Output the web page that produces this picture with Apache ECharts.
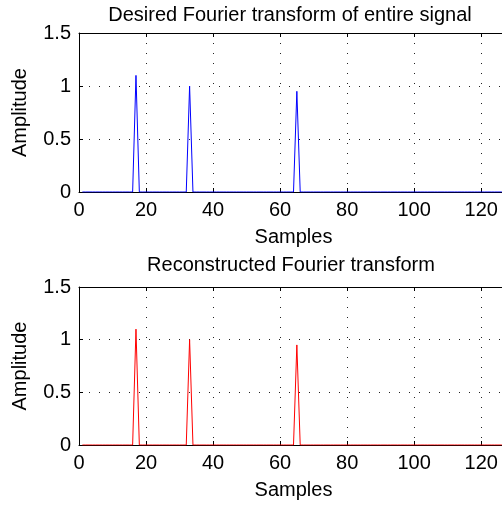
<!DOCTYPE html>
<html>
<head>
<meta charset="utf-8">
<script src="https://cdn.jsdelivr.net/npm/echarts@6/dist/echarts.min.js"></script>
<style>
html,body{margin:0;padding:0;background:#fff;}
#chart{width:502px;height:510px;}
</style>
</head>
<body>
<div id="chart"></div>
<script>
// Sample indices 1..128
var samples = [
  1,2,3,4,5,6,7,8,9,10,11,12,13,14,15,16,
  17,18,19,20,21,22,23,24,25,26,27,28,29,30,31,32,
  33,34,35,36,37,38,39,40,41,42,43,44,45,46,47,48,
  49,50,51,52,53,54,55,56,57,58,59,60,61,62,63,64,
  65,66,67,68,69,70,71,72,73,74,75,76,77,78,79,80,
  81,82,83,84,85,86,87,88,89,90,91,92,93,94,95,96,
  97,98,99,100,101,102,103,104,105,106,107,108,109,110,111,112,
  113,114,115,116,117,118,119,120,121,122,123,124,125,126,127,128
];
// Desired Fourier transform of entire signal
var desiredAmp = [
  0,0,0,0,0,0,0,0,0,0,0,0,0,0,0,0,
  1.1,0,0,0,0,0,0,0,0,0,0,0,0,0,0,0,
  1.0,0,0,0,0,0,0,0,0,0,0,0,0,0,0,0,
  0,0,0,0,0,0,0,0,0,0,0,0,0,0,0,0,
  0.95,0,0,0,0,0,0,0,0,0,0,0,0,0,0,0,
  0,0,0,0,0,0,0,0,0,0,0,0,0,0,0,0,
  0,0,0,0,0,0,0,0,0,0,0,0,0,0,0,0,
  0,0,0,0,0,0,0,0,0,0,0,0,0,0,0,0
];
// Reconstructed Fourier transform
var reconAmp = [
  0,0,0,0,0,0,0,0,0,0,0,0,0,0,0,0,
  1.1,0,0,0,0,0,0,0,0,0,0,0,0,0,0,0,
  1.0,0,0,0,0,0,0,0,0,0,0,0,0,0,0,0,
  0,0,0,0,0,0,0,0,0,0,0,0,0,0,0,0,
  0.95,0,0,0,0,0,0,0,0,0,0,0,0,0,0,0,
  0,0,0,0,0,0,0,0,0,0,0,0,0,0,0,0,
  0,0,0,0,0,0,0,0,0,0,0,0,0,0,0,0,
  0,0,0,0,0,0,0,0,0,0,0,0,0,0,0,0
];
var titles = ['Desired Fourier transform of entire signal', 'Reconstructed Fourier transform'];
var xName = 'Samples';
var yName = 'Amplitude';

function pairs(xs, ys){ return xs.map(function(x,i){ return [x, ys[i]]; }); }

var FONT = 'Liberation Sans, Arial, sans-serif';
var FS = 20;
var gridLine = {show:true, lineStyle:{color:'#222', width:1, type:[1,9]}};

function xAxisBottom(gi){
  return {
    type:'value', gridIndex:gi, position:'bottom', min:0, max:128, interval:20,
    name:xName, nameLocation:'middle', nameGap:35,
    nameTextStyle:{color:'#000', fontSize:FS, fontFamily:FONT},
    axisLine:{show:true, onZero:false, lineStyle:{color:'#000', width:1}},
    axisTick:{show:true, inside:true, length:4, lineStyle:{color:'#000'}},
    axisLabel:{show:true, margin:8, color:'#000', fontSize:FS, fontFamily:FONT,
      showMaxLabel:false, hideOverlap:false,
      formatter:function(v){ return (v % 20 === 0) ? String(v) : ''; }},
    splitLine:gridLine
  };
}
function xAxisTop(gi){
  return {
    type:'value', gridIndex:gi, position:'top', min:0, max:128, interval:20,
    axisLine:{show:true, onZero:false, lineStyle:{color:'#000', width:1}},
    axisTick:{show:true, inside:true, length:4, lineStyle:{color:'#000'}},
    axisLabel:{show:false}, splitLine:{show:false}
  };
}
function yAxisLeft(gi){
  return {
    type:'value', gridIndex:gi, min:0, max:1.5, interval:0.5,
    name:yName, nameLocation:'middle', nameGap:49, nameRotate:90,
    nameTextStyle:{color:'#000', fontSize:FS, fontFamily:FONT},
    axisLine:{show:true, lineStyle:{color:'#000', width:1}},
    axisTick:{show:true, inside:true, length:4, lineStyle:{color:'#000'}},
    axisLabel:{show:true, margin:8, color:'#000', fontSize:FS, fontFamily:FONT},
    splitLine:gridLine
  };
}

var chart = echarts.init(document.getElementById('chart'), null, {renderer:'canvas'});
chart.setOption({
  backgroundColor:'#fff',
  animation:false,
  title:[
    {text:titles[0], left:285, top:0, textAlign:'center',
     textStyle:{color:'#000', fontSize:FS, fontWeight:'normal', fontFamily:FONT}},
    {text:titles[1], left:286, top:250, textAlign:'center',
     textStyle:{color:'#000', fontSize:FS, fontWeight:'normal', fontFamily:FONT}}
  ],
  grid:[
    {left:79, width:429, top:33, height:159, containLabel:false, outerBoundsMode:'none'},
    {left:79, width:429, top:287, height:158, containLabel:false, outerBoundsMode:'none'}
  ],
  xAxis:[xAxisBottom(0), xAxisTop(0), xAxisBottom(1), xAxisTop(1)],
  yAxis:[yAxisLeft(0), yAxisLeft(1)],
  series:[
    {type:'line', xAxisIndex:0, yAxisIndex:0, data:pairs(samples, desiredAmp),
     showSymbol:false, symbol:'none', lineStyle:{color:'#0000ff', width:1}, itemStyle:{color:'#0000ff'}},
    {type:'line', xAxisIndex:2, yAxisIndex:1, data:pairs(samples, reconAmp),
     showSymbol:false, symbol:'none', lineStyle:{color:'#ff0000', width:1}, itemStyle:{color:'#ff0000'}}
  ]
});
</script>
</body>
</html>
